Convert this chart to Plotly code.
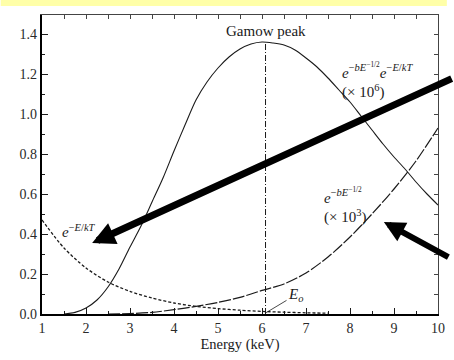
import plotly.graph_objects as go

# ---- data ----
energy_gamow = [1.5, 1.75, 2.0, 2.25, 2.5, 2.75, 3.0, 3.25, 3.5, 3.75, 4.0, 4.25, 4.5, 4.75,
                5.0, 5.25, 5.5, 5.75, 6.0, 6.25, 6.5, 6.75, 7.0, 7.25, 7.5, 7.75, 8.0, 8.25,
                8.5, 8.75, 9.0, 9.25, 9.5, 9.75, 10.0]
gamow_product = [0.0, 0.008, 0.03, 0.07, 0.135, 0.225, 0.335, 0.44, 0.56, 0.68, 0.815, 0.945, 1.07, 1.16,
                 1.23, 1.285, 1.325, 1.35, 1.36, 1.355, 1.345, 1.32, 1.28, 1.235, 1.18, 1.12, 1.06, 0.99,
                 0.92, 0.85, 0.785, 0.725, 0.66, 0.60, 0.545]

energy_boltz = [1.0, 1.5, 2.0, 2.5, 3.0, 3.5, 4.0, 4.5, 5.0, 5.5, 6.0, 6.5, 7.0, 7.5]
boltzmann = [0.47, 0.33, 0.23, 0.16, 0.113, 0.08, 0.055, 0.038, 0.027, 0.019, 0.013, 0.009, 0.006, 0.004]

energy_tunnel = [2.5, 3.0, 3.5, 4.0, 4.5, 5.0, 5.5, 6.0, 6.5, 7.0, 7.5, 8.0, 8.5, 9.0, 9.5, 10.0]
tunneling = [0.0, 0.002, 0.008, 0.022, 0.038, 0.058, 0.083, 0.118, 0.15, 0.205, 0.285, 0.385, 0.50, 0.625, 0.765, 0.93]

peak_energy = 6.08
peak_value = 1.36

x_ticks = [1, 2, 3, 4, 5, 6, 7, 8, 9, 10]
y_ticks = [0.0, 0.2, 0.4, 0.6, 0.8, 1.0, 1.2, 1.4]

SERIF = "Liberation Serif"
INK = "#1a1a1a"

fig = go.Figure()

fig.add_trace(go.Scatter(x=energy_gamow, y=gamow_product, mode="lines",
                         line=dict(color=INK, width=1.1, shape="spline", smoothing=0.8)))
fig.add_trace(go.Scatter(x=energy_boltz, y=boltzmann, mode="lines",
                         line=dict(color=INK, width=1.3, dash="3px,2px", shape="spline", smoothing=0.8)))
fig.add_trace(go.Scatter(x=energy_tunnel, y=tunneling, mode="lines",
                         line=dict(color=INK, width=1.2, dash="12px,2px", shape="spline", smoothing=0.8)))
fig.add_trace(go.Scatter(x=[peak_energy, peak_energy], y=[0, peak_value], mode="lines",
                         line=dict(color=INK, width=1, dash="6px,2px,1px,2px")))
# dummy trace for mirrored (thin) top/right axes
fig.add_trace(go.Scatter(x=[None], y=[None], xaxis="x2", yaxis="y2", mode="lines"))

# yellow band at the top
fig.add_shape(type="rect", xref="paper", yref="paper",
              x0=-42/403, x1=(454-42)/403, y0=(314-6)/299, y1=(314+1)/299,
              fillcolor="#FFFFA8", line=dict(width=0), layer="below")

ann_font = dict(family=SERIF, size=15, color=INK)
fig.add_annotation(x=peak_energy, y=1.415, text="Gamow peak", showarrow=False,
                   font=dict(family=SERIF, size=15, color=INK))
fig.add_annotation(x=1.42, y=0.415, xanchor="left",
                   text="<i>e</i><sup>−<i>E</i>/<i>kT</i></sup>", showarrow=False,
                   font=dict(family=SERIF, size=15, color=INK))
fig.add_annotation(x=7.78, y=1.17, xanchor="left", align="left",
                   text="<i>e</i><sup>−<i>bE</i><sup>−1/2</sup></sup><i>e</i><sup>−<i>E</i>/<i>kT</i></sup><br>(× 10<sup>6</sup>)",
                   showarrow=False, font=ann_font)
fig.add_annotation(x=7.36, y=0.545, xanchor="left", align="left",
                   text="<i>e</i><sup>−<i>bE</i><sup>−1/2</sup></sup><br>(× 10<sup>3</sup>)",
                   showarrow=False, font=ann_font)
fig.add_annotation(x=peak_energy, y=0.005, text="<i>E</i><sub><i>o</i></sub>",
                   showarrow=True, arrowhead=0, arrowwidth=0.8, arrowcolor=INK,
                   ax=30, ay=-18, font=dict(family=SERIF, size=15, color=INK))

# thick black pointer arrows
fig.add_annotation(x=2.14, y=0.355, text="", showarrow=True, arrowhead=2, arrowsize=0.65,
                   arrowwidth=7, arrowcolor="black", ax=361, ay=-165)
fig.add_annotation(x=8.77, y=0.46, text="", showarrow=True, arrowhead=2, arrowsize=0.7,
                   arrowwidth=6, arrowcolor="black", ax=66, ay=36)

tickfont = dict(family=SERIF, size=14, color="#2a2a2a")
fig.update_layout(
    width=454, height=360,
    margin=dict(l=42, r=9, t=15, b=46),
    paper_bgcolor="white", plot_bgcolor="white",
    showlegend=False,
    xaxis=dict(range=[1, 10], tickvals=x_ticks, ticktext=[str(v) for v in x_ticks],
               ticks="inside", ticklen=6, tickwidth=1, tickcolor=INK,
               minor=dict(dtick=0.5, tick0=1, ticks="inside", ticklen=3, tickcolor=INK),
               showline=True, linewidth=2, linecolor="black", showgrid=False, zeroline=False,
               tickfont=tickfont,
               title=dict(text="Energy (keV)", font=dict(family=SERIF, size=14.5, color=INK), standoff=4)),
    yaxis=dict(range=[0, 1.495], tickvals=y_ticks, tickformat=".1f",
               ticks="inside", ticklen=6, tickwidth=1, tickcolor=INK,
               minor=dict(dtick=0.1, tick0=0, ticks="inside", ticklen=3, tickcolor=INK),
               showline=True, linewidth=2.2, linecolor="black", showgrid=False, zeroline=False,
               tickfont=tickfont),
    xaxis2=dict(range=[1, 10], overlaying="x", side="top", anchor="y2", tick0=1, dtick=0.5,
                ticks="inside", ticklen=4, tickcolor="#444", showticklabels=False,
                showline=True, linewidth=1, linecolor="#444", showgrid=False, zeroline=False),
    yaxis2=dict(range=[0, 1.495], overlaying="y", side="right", anchor="x2", tick0=0, dtick=0.1,
                ticks="inside", ticklen=4, tickcolor="#444", showticklabels=False,
                showline=True, linewidth=1, linecolor="#444", showgrid=False, zeroline=False),
)

fig.write_html("out.html")
